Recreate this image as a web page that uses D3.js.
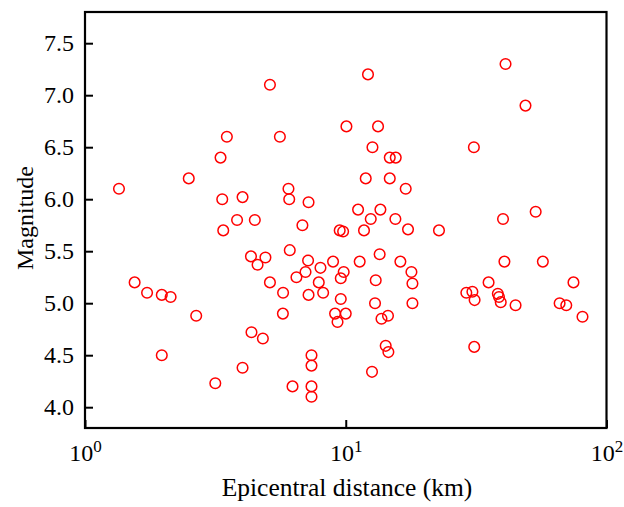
<!DOCTYPE html>
<html>
<head>
<meta charset="utf-8">
<script src="https://cdn.jsdelivr.net/npm/d3@7"></script>
<style>
  body { margin: 0; background: #fff; }
  text { font-family: "Liberation Serif", "Times New Roman", serif; fill: #000; }
</style>
</head>
<body>
<script>
// epicentral distance (km)
var distance = [1.35,1.55,1.73,1.97,2.13,1.97,2.50,2.67,3.16,3.31,
    3.50,3.36,3.39,3.83,4.02,4.02,4.33,4.35,4.48,4.59,
    4.81,4.92,5.12,5.12,5.59,5.75,5.74,6.03,6.07,6.10,
    6.25,6.47,6.82,7.01,7.20,7.17,7.20,7.39,7.39,7.39,
    7.39,7.88,8.00,8.19,8.94,9.10,9.30,9.57,9.57,9.48,
    9.77,9.82,10.0,10.06,11.15,11.31,11.75,11.93,12.17,12.47,
    12.61,12.66,12.95,13.03,13.30,13.49,13.58,13.71,14.23,14.52,
    14.57,14.75,14.75,15.55,15.50,16.2,16.98,17.33,17.86,18.02,
    18.02,22.78,29.0,30.6,31.2,31.0,31.1,35.3,38.3,38.7,
    39.3,44.8,40.6,40.1,41.0,48.9,53.5,57.0,66.1,70.1,
    74.7,80.9];
var magnitude = [6.10,5.20,5.10,5.08,5.06,4.50,6.20,4.88,4.23,6.40,
    6.60,6.00,5.70,5.80,6.02,4.38,5.45,4.72,5.80,5.37,
    4.66,5.44,7.10,5.20,6.60,5.10,4.90,6.10,6.00,5.51,
    4.20,5.25,5.75,5.30,5.97,5.41,5.08,4.50,4.40,4.20,
    4.10,5.20,5.34,5.10,5.40,4.90,4.82,5.04,5.24,5.70,
    5.69,5.30,4.90,6.70,5.90,5.40,5.70,6.20,7.20,5.81,
    4.34,6.50,5.00,5.22,6.70,5.47,5.90,4.85,4.59,4.88,
    4.53,6.40,6.20,6.40,5.81,5.40,6.10,5.71,5.30,5.19,
    5.00,5.70,5.10,5.11,5.03,6.50,4.58,5.20,5.09,5.06,
    5.01,4.98,5.40,5.81,7.30,6.90,5.88,5.40,5.00,4.98,
    5.20,4.87];
var xTicks = [1, 10, 100];
var yTicks = [4.0, 4.5, 5.0, 5.5, 6.0, 6.5, 7.0, 7.5];

var margin = {top: 12, right: 17.5, bottom: 79, left: 85};
var W = 624, H = 507;
var w = W - margin.left - margin.right;
var h = H - margin.top - margin.bottom;

var points = distance.map(function (d, i) {
    return {dist: d, mag: magnitude[i]};
});

var svg = d3.select('body').append('svg')
    .attr('width', W)
    .attr('height', H)
    .append('g')
    .attr('transform', 'translate(' + margin.left + ',' + margin.top + ')');

var xScale = d3.scaleLog()
    .domain([1, 100])
    .range([0, w]);

var yScale = d3.scaleLinear()
    .domain([3.8, 7.8])
    .range([h, 0]);

// points
svg.selectAll('circle')
    .data(points)
    .enter()
    .append('circle')
    .attr('cx', function (d) { return xScale(d.dist); })
    .attr('cy', function (d) { return yScale(d.mag); })
    .attr('r', 5.3)
    .attr('fill', 'none')
    .attr('stroke', '#ff0000')
    .attr('stroke-width', 1.5);

// x axis, ticks inward, labels as 10^n
var xAxis = d3.axisBottom(xScale)
    .tickValues(xTicks)
    .tickSize(-8)
    .tickFormat(function () { return ''; });

var gx = svg.append('g')
    .attr('transform', 'translate(0,' + h + ')')
    .call(xAxis);

gx.selectAll('.tick text')
    .attr('y', 33)
    .attr('dy', null)
    .style('font-size', '24px')
    .each(function (d) {
        var t = d3.select(this);
        t.append('tspan').text('10');
        t.append('tspan')
            .attr('dy', '-9.5')
            .style('font-size', '17px')
            .text(Math.round(Math.log10(d)));
    });

// y axis
var yAxis = d3.axisLeft(yScale)
    .tickValues(yTicks)
    .tickSize(-8)
    .tickPadding(11)
    .tickFormat(d3.format('.1f'));

var gy = svg.append('g').call(yAxis);
gy.selectAll('.tick text').style('font-size', '24px');

svg.selectAll('.domain').remove();
svg.selectAll('.tick line')
    .attr('stroke', '#000')
    .attr('stroke-width', 2);

// frame
svg.append('rect')
    .attr('x', 0)
    .attr('y', 0)
    .attr('width', w)
    .attr('height', h)
    .attr('fill', 'none')
    .attr('stroke', '#000')
    .attr('stroke-width', 2.2);

// axis titles
svg.append('text')
    .attr('x', (220 + 474) / 2 - margin.left)
    .attr('y', 496 - margin.top)
    .style('text-anchor', 'middle')
    .style('font-size', '25.5px')
    .text('Epicentral distance (km)');

svg.append('text')
    .attr('transform', 'translate(' + (33 - margin.left) + ',' + (218 - margin.top) + ') rotate(-90)')
    .style('text-anchor', 'middle')
    .style('font-size', '24px')
    .text('Magnitude');
</script>
</body>
</html>
